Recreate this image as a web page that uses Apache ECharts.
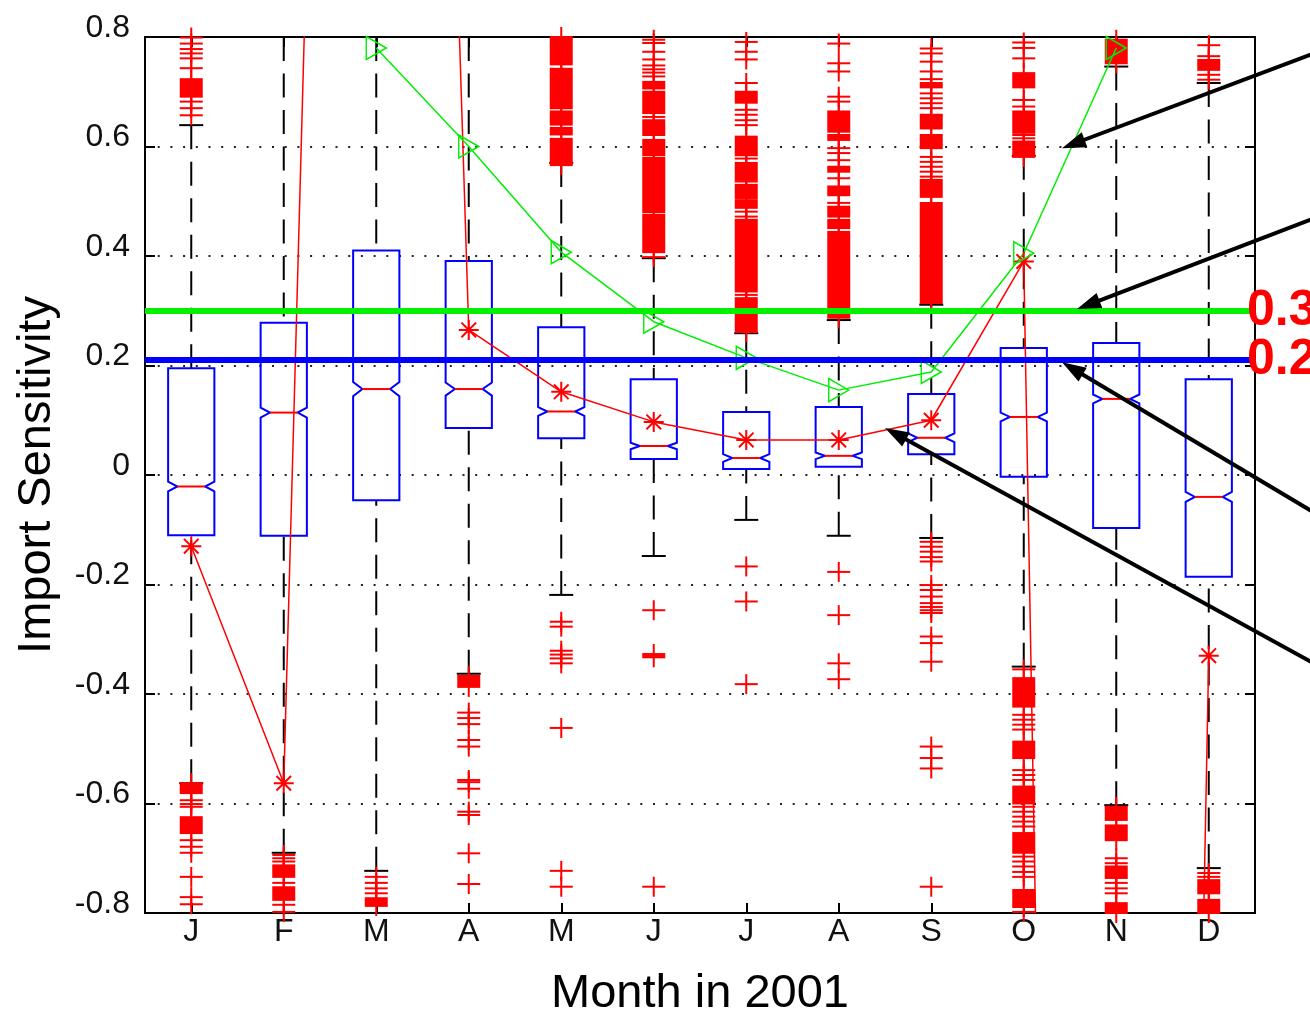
<!DOCTYPE html>
<html><head><meta charset="utf-8">
<script src="https://cdn.jsdelivr.net/npm/echarts@6/dist/echarts.min.js"></script>
<style>html,body{margin:0;padding:0;background:#fff}#c{width:1310px;height:1014px}</style>
</head><body><div id="c"></div>
<script>
// ---------------- data ----------------
const monthNames = ['Jan','Feb','Mar','Apr','May','Jun','Jul','Aug','Sep','Oct','Nov','Dec'];
const monthTicks = ['J','F','M','A','M','J','J','A','S','O','N','D'];
const yTickStep = 0.2;
const yMin = -0.8, yMax = 0.8;

const boxQ1     = [-0.110,-0.111,-0.046, 0.086, 0.067, 0.029, 0.011, 0.015, 0.038,-0.003,-0.097,-0.186];
const boxMedian = [-0.021, 0.114, 0.157, 0.157, 0.116, 0.053, 0.031, 0.035, 0.068, 0.106, 0.139,-0.040];
const boxQ3     = [ 0.195, 0.278, 0.410, 0.391, 0.270, 0.175, 0.115, 0.124, 0.148, 0.232, 0.241, 0.175];
const whiskerLow  = [-0.563,-0.690,-0.723,-0.363,-0.219,-0.148,-0.082,-0.111,-0.115,-0.350,-0.603,-0.718];
const whiskerHigh = [ 0.639, 0.800, 0.800, 0.800, 0.570, 0.396, 0.259, 0.283, 0.311, 0.583, 0.746, 0.716];
const notchHalf   = [0.009,0.009,0.013,0.012,0.008,0.006,0.007,0.006,0.008,0.008,0.008,0.009];

const meanValues  = [-0.130,-0.563, 5.6, 0.265, 0.152, 0.097, 0.064, 0.064, 0.100, 0.390,-9.0,-0.330];
const greenValues = [null, null, 0.780, 0.600, 0.407, 0.280, 0.214, 0.155, 0.188, 0.405, 0.780, null];

const outlierPoints = [
  [0.799,0.788,0.778,0.770,0.761,0.743,0.682,0.670,0.657,-0.594,-0.601,-0.606,-0.667,-0.679,-0.690,-0.734,-0.771,-0.784],
  [-0.694,-0.700,-0.706,-0.745,-0.785,-0.798],
  [-0.734,-0.745,-0.755,-0.764],
  [-0.434,-0.444,-0.455,-0.484,-0.496,-0.557,-0.561,-0.573,-0.615,-0.621,-0.691,-0.747],
  [-0.268,-0.277,-0.321,-0.328,-0.335,-0.344,-0.462,-0.723,-0.752],
  [0.795,0.789,0.773,0.759,0.748,0.741,0.735,0.728,0.654,0.398,-0.247,-0.752],
  [0.791,0.773,0.759,0.716,0.667,0.658,0.648,0.639,0.578,0.536,0.481,0.472,0.329,-0.167,-0.231,-0.382],
  [0.788,0.752,0.737,0.691,0.682,0.597,0.588,0.575,0.542,0.497,-0.177,-0.256,-0.344,-0.373],
  [0.779,0.770,0.755,0.737,0.723,0.697,0.688,0.679,0.670,0.581,0.572,0.563,0.554,0.545,
   -0.122,-0.131,-0.140,-0.150,-0.158,-0.201,-0.210,-0.222,-0.234,-0.241,-0.247,-0.252,-0.295,-0.307,-0.341,-0.496,-0.517,-0.536,-0.752],
  [0.790,0.780,0.761,0.685,0.673,0.621,0.615,-0.355,-0.438,-0.447,-0.456,-0.465,-0.539,-0.548,-0.557,
   -0.606,-0.615,-0.624,-0.633,-0.642,-0.697,-0.706,-0.715,-0.725,-0.734,-0.798],
  [-0.700,-0.709,-0.745,-0.755,-0.764],
  [0.785,0.765,0.731,0.722,-0.727,-0.734]
];
const outlierBands = [
  [[0.691,0.723],[-0.581,-0.563],[-0.654,-0.625]],
  [[-0.734,-0.713],[-0.776,-0.753]],
  [[-0.787,-0.773]],
  [[-0.387,-0.367]],
  [[0.566,0.614],[0.622,0.634],[0.640,0.664],[0.670,0.742],[0.750,0.800]],
  [[0.706,0.718],[0.661,0.700],[0.621,0.648],[0.584,0.612],[0.480,0.579],[0.407,0.475],[-0.333,-0.327]],
  [[0.680,0.700],[0.584,0.618],[0.539,0.570],[0.506,0.530],[0.488,0.502],[0.335,0.466],[0.261,0.323]],
  [[0.627,0.664],[0.612,0.621],[0.554,0.563],[0.511,0.527],[0.472,0.490],[0.451,0.466],[0.387,0.444],[0.287,0.384]],
  [[0.708,0.716],[0.633,0.658],[0.597,0.621],[0.508,0.539],[0.314,0.497]],
  [[0.708,0.734],[0.625,0.664],[0.581,0.609],[-0.423,-0.371],[-0.517,-0.487],[-0.600,-0.569],[-0.690,-0.654],[-0.789,-0.758]],
  [[0.752,0.795],[-0.630,-0.606],[-0.667,-0.640],[-0.736,-0.715],[-0.800,-0.782]],
  [[0.740,0.758],[-0.764,-0.740],[-0.800,-0.776]]
];

const refLineValues = [0.3, 0.207];
const refLineLabels = ['0.3', '0.2'];
const refLineColors = ['#00f000', '#0000ff'];

// annotation arrows in data space (x: month position, y: sensitivity)
const arrowTails = [[12.31, 0.781],[12.31, 0.480],[12.31,-0.086],[12.31,-0.360]];
const arrowHeads = [[9.414, 0.597],[9.576, 0.303],[9.414, 0.206],[7.50, 0.086]];

// ---------------- build ----------------
const FONT = 'Liberation Sans, Arial, sans-serif';
const boxData = monthNames.map((m,i)=>[i, whiskerLow[i], boxQ1[i], boxMedian[i], boxQ3[i], whiskerHigh[i], notchHalf[i]]);
const pointData = []; outlierPoints.forEach((arr,i)=>arr.forEach(v=>pointData.push([i,v])));
const bandData = []; outlierBands.forEach((arr,i)=>arr.forEach(b=>bandData.push([i,b[0],b[1]])));
const arrowData = arrowTails.map((t,k)=>[t[0],t[1],arrowHeads[k][0],arrowHeads[k][1]]);
const STAR = 'path://M9,0L11,0L11,20L9,20Z M0,9L20,9L20,11L0,11Z M2,3.4L3.4,2L18,16.6L16.6,18Z M16.6,2L18,3.4L3.4,18L2,16.6Z';

function renderWhisker(params, api){
  const i = api.value(0);
  const lo = api.coord([i, api.value(1)]);
  const q1 = api.coord([i, api.value(2)]);
  const q3 = api.coord([i, api.value(4)]);
  const hi = api.coord([i, api.value(5)]);
  const x = lo[0], cw = 12;
  const dash = {stroke:'#000', lineWidth:2, lineDash:[24,12.5], fill:null};
  return {type:'group', children:[
    {type:'line', shape:{x1:x,y1:hi[1],x2:x,y2:q3[1]}, style:dash},
    {type:'line', shape:{x1:x,y1:lo[1],x2:x,y2:q1[1]}, style:dash},
    {type:'line', shape:{x1:x-cw,y1:hi[1],x2:x+cw,y2:hi[1]}, style:{stroke:'#000',lineWidth:2}},
    {type:'line', shape:{x1:x-cw,y1:lo[1],x2:x+cw,y2:lo[1]}, style:{stroke:'#000',lineWidth:2}}
  ]};
}
function renderBox(params, api){
  const i = api.value(0);
  const med = api.value(3), n = api.value(6);
  const q1 = api.coord([i, api.value(2)]);
  const q3 = api.coord([i, api.value(4)]);
  const m = api.coord([i, med]);
  const nh = api.coord([i, med+n]);
  const nl = api.coord([i, med-n]);
  const w = api.size([1,0])[0]*0.5;
  const L = m[0]-w/2, R = m[0]+w/2, ins = w*0.2;
  const pts = [[L,q3[1]],[R,q3[1]],[R,nh[1]],[R-ins,m[1]],[R,nl[1]],[R,q1[1]],[L,q1[1]],[L,nl[1]],[L+ins,m[1]],[L,nh[1]]];
  return {type:'group', children:[
    {type:'polygon', shape:{points:pts}, style:{fill:null, stroke:'#0000ff', lineWidth:2}},
    {type:'line', shape:{x1:L+ins,y1:m[1],x2:R-ins,y2:m[1]}, style:{stroke:'#ff0000',lineWidth:2}}
  ]};
}
function renderPlus(params, api){
  const p = api.coord([api.value(0), api.value(1)]);
  const s = {stroke:'#ff0000', lineWidth:2};
  return {type:'group', children:[
    {type:'line', shape:{x1:p[0]-11.5,y1:p[1],x2:p[0]+11.5,y2:p[1]}, style:s},
    {type:'line', shape:{x1:p[0],y1:p[1]-10,x2:p[0],y2:p[1]+10}, style:s}
  ]};
}
function renderBand(params, api){
  const i = api.value(0);
  const b = api.coord([i, api.value(1)]);
  const a = api.coord([i, api.value(2)]);
  return {type:'group', children:[
    {type:'rect', shape:{x:a[0]-11.5, y:a[1]-1, width:23, height:b[1]-a[1]+2}, style:{fill:'#ff0000'}},
    {type:'line', shape:{x1:a[0],y1:a[1]-10,x2:a[0],y2:b[1]+10}, style:{stroke:'#ff0000',lineWidth:2}}
  ]};
}
function renderArrow(params, api){
  const t = api.coord([api.value(0), api.value(1)]);
  const h = api.coord([api.value(2), api.value(3)]);
  const dx = h[0]-t[0], dy = h[1]-t[1], len = Math.hypot(dx,dy);
  const ux = dx/len, uy = dy/len, hl = 24, hw = 8;
  const bx = h[0]-ux*hl, by = h[1]-uy*hl;
  return {type:'group', children:[
    {type:'line', shape:{x1:t[0],y1:t[1],x2:bx+ux*3,y2:by+uy*3}, style:{stroke:'#000',lineWidth:4}},
    {type:'polygon', shape:{points:[[h[0],h[1]],[bx-uy*hw,by+ux*hw],[bx+uy*hw,by-ux*hw]]}, style:{fill:'#000'}}
  ]};
}

const chart = echarts.init(document.getElementById('c'), null, {renderer:'canvas'});
const axisLineStyle = {color:'#000', width:2};
chart.setOption({
  animation: false,
  backgroundColor: '#fff',
  grid: {left:145, right:55, top:37, bottom:101, containLabel:false, outerBoundsMode:'none'},
  xAxis: [
    {type:'category', data:monthNames, position:'bottom', boundaryGap:true,
     axisLine:{show:true, onZero:false, lineStyle:axisLineStyle},
     axisTick:{show:true, inside:true, alignWithLabel:true, length:10, lineStyle:{color:'#000',width:2}},
     axisLabel:{show:true, margin:3, formatter:(v,i)=>monthTicks[i], color:'#111', fontSize:32, fontFamily:FONT},
     splitLine:{show:false},
     name:'Month in 2001', nameLocation:'middle', nameGap:58,
     nameTextStyle:{fontSize:47, fontFamily:FONT, color:'#000'}},
    {type:'category', data:monthNames, position:'top', boundaryGap:true,
     axisLine:{show:true, onZero:false, lineStyle:axisLineStyle},
     axisTick:{show:true, inside:true, alignWithLabel:true, length:10, lineStyle:{color:'#000',width:2}},
     axisLabel:{show:false}, splitLine:{show:false}},
    {type:'value', min:-0.5, max:11.5, show:false}
  ],
  yAxis: [
    {type:'value', min:yMin, max:yMax, interval:yTickStep, position:'left',
     axisLine:{show:true, onZero:false, lineStyle:axisLineStyle},
     axisTick:{show:true, inside:true, length:10, lineStyle:{color:'#000',width:2}},
     axisLabel:{show:true, margin:15, color:'#111', fontSize:32, fontFamily:FONT,
                verticalAlign:'bottom', lineHeight:18},
     splitLine:{show:true, lineStyle:{color:'#222', width:2, type:[2,10.7]}},
     name:'Import Sensitivity', nameLocation:'middle', nameGap:84, nameRotate:90,
     nameTextStyle:{fontSize:47, fontFamily:FONT, color:'#000'}},
    {type:'value', min:yMin, max:yMax, interval:yTickStep, position:'right',
     axisLine:{show:true, onZero:false, lineStyle:axisLineStyle},
     axisTick:{show:true, inside:true, length:10, lineStyle:{color:'#000',width:2}},
     axisLabel:{show:false}, splitLine:{show:false}}
  ],
  series: [
    {type:'custom', name:'whiskers', xAxisIndex:0, yAxisIndex:0, renderItem:renderWhisker,
     encode:{x:0, y:[1,2,3,4,5]}, data:boxData, silent:true, z:2},
    {type:'custom', name:'outlierBands', xAxisIndex:0, yAxisIndex:0, renderItem:renderBand,
     encode:{x:0, y:[1,2]}, data:bandData, silent:true, z:2},
    {type:'custom', name:'outliers', xAxisIndex:0, yAxisIndex:0, renderItem:renderPlus,
     encode:{x:0, y:1}, data:pointData, silent:true, z:2},
    {type:'custom', name:'boxes', xAxisIndex:0, yAxisIndex:0, renderItem:renderBox,
     encode:{x:0, y:[1,2,3,4,5]}, data:boxData, silent:true, z:2},
    {type:'line', name:'mean', xAxisIndex:0, yAxisIndex:0, data:meanValues, clip:true,
     symbol:STAR, symbolSize:20, showAllSymbol:true,
     itemStyle:{color:'#ff0000'}, lineStyle:{color:'#ff0000', width:1.5}, silent:true, z:3},
    {type:'line', name:'green', xAxisIndex:0, yAxisIndex:0, data:greenValues, clip:true,
     symbol:'triangle', symbolRotate:-90, symbolSize:[23,20], showAllSymbol:true,
     itemStyle:{color:'rgba(255,255,255,0)', borderColor:'#00ee00', borderWidth:1.5},
     lineStyle:{color:'#00ee00', width:1.5}, silent:true, z:3,
     markLine:{silent:true, symbol:['none','none'], animation:false,
       data: refLineValues.map((v,k)=>({yAxis:v, lineStyle:{color:refLineColors[k], width:6, type:'solid'},
         label:{show:true, formatter:refLineLabels[k], position:'end', distance:-8, color:'#ff0000',
                fontSize:50, fontWeight:'bold', fontFamily:FONT}}))}},
    {type:'custom', name:'arrows', xAxisIndex:2, yAxisIndex:0, renderItem:renderArrow,
     encode:{x:[0,2], y:[1,3]}, data:arrowData, silent:true, clip:false, z:5}
  ]
});
</script>
</body></html>
